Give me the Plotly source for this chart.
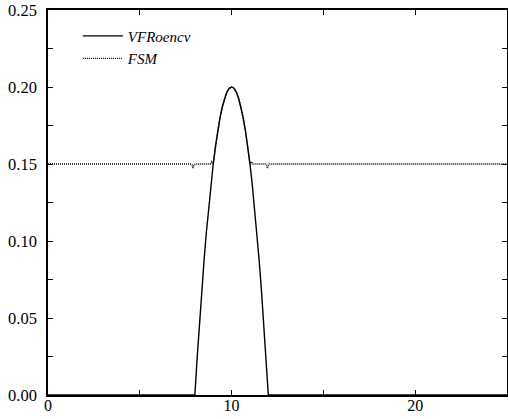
import plotly.graph_objects as go

# Exact profile (VFRoencv): zero outside [8, 12], cap of height 0.20 centred at x = 10
x_exact = [0, 8.0, 8.125, 8.25, 8.375, 8.5, 8.625, 8.75, 8.875, 9.0, 9.125, 9.25, 9.375,
           9.5, 9.625, 9.75, 9.875, 10.0, 10.125, 10.25, 10.375, 10.5, 10.625, 10.75,
           10.875, 11.0, 11.125, 11.25, 11.375, 11.5, 11.625, 11.75, 11.875, 12.0, 25]
y_exact = [0.0, 0.0, 0.0242, 0.0469, 0.0680, 0.0875, 0.1055, 0.1219, 0.1367, 0.1500, 0.1617,
           0.1719, 0.1805, 0.1875, 0.1930, 0.1969, 0.1992, 0.2000, 0.1992, 0.1969, 0.1930,
           0.1875, 0.1805, 0.1719, 0.1617, 0.1500, 0.1367, 0.1219, 0.1055, 0.0875, 0.0680,
           0.0469, 0.0242, 0.0, 0.0]

# FSM solution: flat level 0.15 with small dips, following the cap above 0.15
x_fsm = [0, 7.75, 7.85, 7.9, 7.95, 8.05, 8.85, 8.92, 9.0, 9.125, 9.25, 9.375, 9.5, 9.625,
         9.75, 9.875, 10.0, 10.125, 10.25, 10.375, 10.5, 10.625, 10.75, 10.875, 11.0,
         11.08, 11.15, 11.85, 11.9, 11.95, 12.05, 25]
y_fsm = [0.150, 0.150, 0.1495, 0.1472, 0.1495, 0.150, 0.150, 0.1515, 0.1500, 0.1617, 0.1719,
         0.1805, 0.1875, 0.1930, 0.1969, 0.1992, 0.2000, 0.1992, 0.1969, 0.1930, 0.1875,
         0.1805, 0.1719, 0.1617, 0.1500, 0.1515, 0.150, 0.150, 0.1495, 0.1472, 0.150, 0.150]

x_ticks = [0, 10, 20]
y_ticks = [0.00, 0.05, 0.10, 0.15, 0.20, 0.25]

SERIF = "Times New Roman, Liberation Serif, Times, serif"

fig = go.Figure()
fig.add_trace(go.Scatter(x=x_exact, y=y_exact, mode="lines", name="<i>VFRoencv</i>",
                         line=dict(color="black", width=1.4)))
fig.add_trace(go.Scatter(x=x_fsm, y=y_fsm, mode="lines", name="<i>FSM</i>",
                         line=dict(color="black", width=1.4, dash="1px,1px")))

axis_common = dict(showline=True, linecolor="black", linewidth=1.5, mirror="ticks",
                   ticks="inside", ticklen=5, tickwidth=1, tickcolor="black",
                   showgrid=False, zeroline=False, automargin=False)

fig.update_xaxes(range=[0, 25], tickvals=x_ticks, ticktext=[str(v) for v in x_ticks],
                 minor=dict(dtick=5, tick0=0, ticks="inside", ticklen=5, tickcolor="black"),
                 ticklabelstandoff=-5, tickfont=dict(family=SERIF, size=16, color="black"),
                 **axis_common)
fig.update_yaxes(range=[0, 0.25], tickvals=y_ticks, ticktext=[f"{v:.2f}" for v in y_ticks],
                 minor=dict(dtick=0.025, tick0=0, ticks="inside", ticklen=5, tickcolor="black"),
                 ticklabelstandoff=6, tickfont=dict(family=SERIF, size=16.5, color="black"),
                 **axis_common)

fig.update_layout(
    width=508, height=419,
    margin=dict(l=48, r=1, t=10, b=24),
    plot_bgcolor="white", paper_bgcolor="white",
    legend=dict(x=0.065, y=0.975, xanchor="left", yanchor="top",
                bgcolor="rgba(0,0,0,0)", itemwidth=40, tracegroupgap=0,
                font=dict(family=SERIF, size=15, color="black")),
)

fig.write_html("out.html")
